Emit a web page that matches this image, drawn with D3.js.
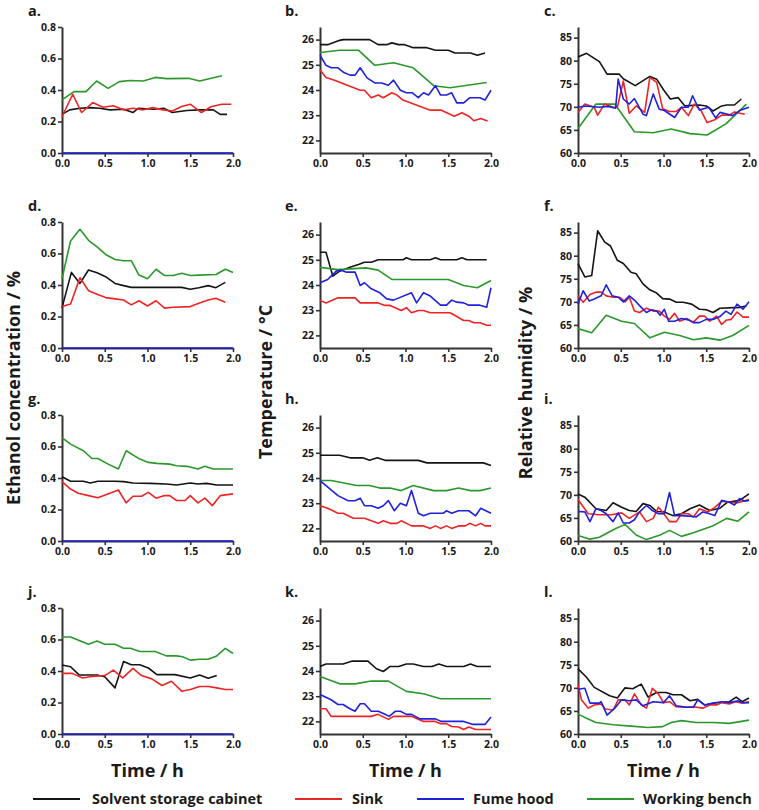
<!DOCTYPE html>
<html><head><meta charset="utf-8">
<script src="https://cdn.jsdelivr.net/npm/d3@7"></script>
<style>
body{margin:0;background:#fff}
svg{display:block}
text{font-family:"Open Sans",sans-serif;font-weight:700;fill:#1a1a1a}
</style>
</head><body>
<svg id="chart" width="759" height="810"></svg>
<script>
// ---------- series names & tick labels ----------
const seriesNames = ["Solvent storage cabinet","Sink","Fume hood","Working bench"];
const timeTicks = [0, 0.5, 1.0, 1.5, 2.0];
const ethanolTicks = [0, 0.2, 0.4, 0.6, 0.8];
const tempTicks = [22, 23, 24, 25, 26];
const humidityTicks = [60, 65, 70, 75, 80, 85];
const panelLetters = ["a.","b.","c.","d.","e.","f.","g.","h.","i.","j.","k.","l."];
const axisTitles = ["Ethanol concentration / %","Temperature / °C","Relative humidity / %"];
const xTitle = "Time / h";

// ---------- data: [time (h), value] ----------
// a. ethanol
const aCabinet = [[0,0.245],[0.09,0.274],[0.21,0.284],[0.33,0.288],[0.44,0.284],[0.56,0.274],[0.72,0.278],[0.83,0.257],[0.89,0.284],[1.07,0.278],[1.19,0.284],[1.29,0.257],[1.46,0.27],[1.61,0.274],[1.77,0.274],[1.85,0.245],[1.93,0.245]];
const aSink = [[0,0.23],[0.125,0.373],[0.23,0.257],[0.36,0.32],[0.48,0.29],[0.6,0.30],[0.72,0.274],[0.83,0.284],[0.95,0.274],[1.06,0.288],[1.18,0.274],[1.29,0.267],[1.4,0.295],[1.5,0.31],[1.63,0.257],[1.75,0.295],[1.87,0.31],[1.98,0.31]];
const aHood = [[0,0],[0.5,0],[1,0],[1.5,0],[2,0]];
const aBench = [[0,0.337],[0.14,0.39],[0.28,0.39],[0.405,0.457],[0.54,0.41],[0.67,0.453],[0.795,0.46],[0.95,0.457],[1.09,0.48],[1.22,0.472],[1.48,0.474],[1.61,0.457],[1.87,0.49]];
// b. temperature
const bCabinet = [[0,25.8],[0.09,25.8],[0.23,25.97],[0.27,26.0],[0.58,26.0],[0.68,25.8],[0.78,25.8],[0.84,25.87],[0.92,25.8],[0.99,25.8],[1.09,25.68],[1.25,25.68],[1.35,25.58],[1.5,25.58],[1.58,25.47],[1.76,25.47],[1.84,25.38],[1.93,25.47]];
const bSink = [[0,24.79],[0.07,24.5],[0.17,24.39],[0.47,23.99],[0.52,23.99],[0.6,23.69],[0.68,23.8],[0.74,23.69],[0.84,23.89],[0.9,23.8],[0.97,23.6],[1.29,23.2],[1.42,23.2],[1.57,22.96],[1.66,23.1],[1.74,22.96],[1.8,22.78],[1.88,22.87],[1.96,22.77]];
const bHood = [[0,25.38],[0.07,24.98],[0.13,24.88],[0.21,24.88],[0.28,24.69],[0.35,24.59],[0.41,24.59],[0.47,24.88],[0.55,24.48],[0.64,24.28],[0.72,24.28],[0.8,24.19],[0.86,24.39],[0.94,23.99],[1.01,23.89],[1.08,23.89],[1.15,23.7],[1.21,23.89],[1.27,23.8],[1.35,24.17],[1.41,23.8],[1.48,23.8],[1.54,23.89],[1.6,23.49],[1.68,23.49],[1.75,23.69],[1.87,23.69],[1.93,23.6],[2.0,23.99]];
const bBench = [[0,25.49],[0.23,25.58],[0.45,25.58],[0.64,24.98],[0.86,25.08],[1.09,24.88],[1.33,24.17],[1.52,24.09],[1.95,24.3]];
// c. humidity
const cCabinet = [[0,80.8],[0.1,81.6],[0.25,79.8],[0.34,77.1],[0.48,77.1],[0.53,76.1],[0.67,74.6],[0.84,76.6],[0.92,76.0],[1.0,73.7],[1.08,71.7],[1.17,72.0],[1.25,70.2],[1.42,70.4],[1.5,70.2],[1.58,69.1],[1.68,70.2],[1.74,70.4],[1.83,70.4],[1.91,71.7]];
const cSink = [[0,68.8],[0.08,70.6],[0.19,69.9],[0.23,68.2],[0.31,70.6],[0.41,69.9],[0.46,69.9],[0.53,75.6],[0.6,68.6],[0.68,70.2],[0.78,68.8],[0.84,76.4],[0.92,75.3],[0.99,69.6],[1.07,69.0],[1.15,69.0],[1.21,69.9],[1.29,68.1],[1.36,70.6],[1.44,69.2],[1.51,66.6],[1.6,67.2],[1.68,68.2],[1.77,68.2],[1.83,68.9],[1.95,68.4]];
const cHood = [[0,69.9],[0.09,70.2],[0.25,69.9],[0.35,70.1],[0.44,69.7],[0.47,76.0],[0.53,71.7],[0.6,70.6],[0.66,71.8],[0.76,68.4],[0.8,68.1],[0.88,72.8],[0.95,69.5],[1.01,69.2],[1.13,67.7],[1.21,69.9],[1.29,69.9],[1.34,72.4],[1.42,69.3],[1.53,69.9],[1.61,67.6],[1.66,68.8],[1.75,68.4],[1.81,68.1],[1.89,69.2],[2.0,69.9]];
const cBench = [[0,65.3],[0.21,70.6],[0.43,70.6],[0.66,64.6],[0.88,64.4],[1.09,65.2],[1.31,64.2],[1.51,63.9],[1.73,66.3],[1.97,70.6]];
// d. ethanol
const dCabinet = [[0,0.255],[0.11,0.48],[0.21,0.41],[0.31,0.495],[0.41,0.478],[0.51,0.453],[0.62,0.41],[0.72,0.396],[0.81,0.385],[1.4,0.385],[1.5,0.373],[1.6,0.383],[1.71,0.396],[1.8,0.383],[1.91,0.417]];
const dSink = [[0,0.263],[0.1,0.28],[0.21,0.446],[0.31,0.364],[0.41,0.341],[0.51,0.32],[0.62,0.312],[0.72,0.305],[0.81,0.274],[0.9,0.30],[1.0,0.267],[1.1,0.30],[1.2,0.253],[1.3,0.259],[1.5,0.263],[1.6,0.284],[1.71,0.305],[1.8,0.316],[1.91,0.29]];
const dHood = [[0,0],[0.5,0],[1,0],[1.5,0],[2,0]];
const dBench = [[0,0.44],[0.1,0.68],[0.21,0.754],[0.31,0.684],[0.41,0.642],[0.51,0.594],[0.62,0.562],[0.72,0.554],[0.81,0.554],[0.9,0.463],[1.0,0.44],[1.1,0.50],[1.2,0.46],[1.3,0.46],[1.4,0.474],[1.5,0.46],[1.6,0.463],[1.8,0.467],[1.91,0.50],[2.0,0.48]];
// e. temperature
const eCabinet = [[0,25.3],[0.07,25.3],[0.15,24.35],[0.23,24.55],[0.35,24.7],[0.45,24.81],[0.52,24.9],[0.6,24.9],[0.68,25.0],[0.97,25.0],[1.01,25.08],[1.07,25.0],[1.29,25.0],[1.35,25.08],[1.41,25.0],[1.6,25.0],[1.66,25.08],[1.72,25.0],[1.95,25.0]];
const eSink = [[0,23.39],[0.07,23.29],[0.21,23.49],[0.41,23.49],[0.47,23.29],[0.68,23.29],[0.76,23.19],[0.82,23.19],[0.95,22.99],[1.01,23.1],[1.07,22.9],[1.15,22.99],[1.21,22.99],[1.29,22.9],[1.52,22.9],[1.58,22.79],[1.68,22.59],[1.74,22.59],[1.8,22.5],[1.87,22.5],[1.95,22.4],[2.0,22.4]];
const eHood = [[0,24.09],[0.09,24.22],[0.13,24.35],[0.19,24.55],[0.25,24.59],[0.31,24.51],[0.41,24.51],[0.47,23.98],[0.52,24.09],[0.6,23.85],[0.7,23.69],[0.78,23.45],[0.86,23.4],[1.07,23.69],[1.13,23.29],[1.21,23.69],[1.29,23.56],[1.41,23.2],[1.48,23.2],[1.54,23.4],[1.6,23.32],[1.68,23.29],[1.74,23.2],[1.87,23.2],[1.95,23.12],[2.0,23.89]];
const eBench = [[0,24.7],[0.21,24.61],[0.54,24.68],[0.68,24.59],[0.84,24.22],[1.5,24.22],[1.68,23.98],[1.84,23.89],[2.0,24.18]];
// f. humidity
const fCabinet = [[0,78.3],[0.08,75.4],[0.16,75.7],[0.23,85.4],[0.31,83.0],[0.38,82.1],[0.46,79.0],[0.53,78.3],[0.62,76.4],[0.68,76.1],[0.76,73.9],[0.84,72.6],[0.92,71.9],[0.99,70.7],[1.07,70.6],[1.15,69.9],[1.23,69.9],[1.33,69.5],[1.42,68.4],[1.5,68.3],[1.58,67.7],[1.66,68.6],[1.89,68.8],[1.97,69.1]];
const fSink = [[0,71.3],[0.06,69.9],[0.14,71.6],[0.21,72.1],[0.27,72.1],[0.33,71.3],[0.41,71.0],[0.49,71.0],[0.55,70.0],[0.6,71.0],[0.66,68.0],[0.72,67.7],[0.8,68.6],[0.88,68.0],[0.95,68.0],[1.01,66.9],[1.07,66.2],[1.13,67.5],[1.19,65.8],[1.27,66.4],[1.35,65.6],[1.42,66.9],[1.48,66.9],[1.54,65.8],[1.62,66.9],[1.68,65.1],[1.73,66.0],[1.79,66.2],[1.86,67.8],[1.93,66.7],[2.0,66.7]];
const fHood = [[0,69.5],[0.06,72.4],[0.13,70.2],[0.19,70.6],[0.27,71.3],[0.33,73.7],[0.4,71.3],[0.47,71.0],[0.53,70.0],[0.6,71.3],[0.67,70.2],[0.74,68.8],[0.8,67.7],[0.86,68.3],[0.92,68.0],[0.96,67.1],[1.01,68.4],[1.06,65.8],[1.13,65.8],[1.21,66.4],[1.29,66.1],[1.35,65.5],[1.42,65.5],[1.5,66.2],[1.58,66.2],[1.66,66.8],[1.73,68.0],[1.79,67.3],[1.86,69.5],[1.93,68.4],[2.0,70.0]];
const fBench = [[0,64.2],[0.16,63.3],[0.33,67.1],[0.51,65.8],[0.66,65.3],[0.84,62.2],[1.01,63.4],[1.19,62.7],[1.35,61.8],[1.5,62.2],[1.66,61.7],[1.81,62.7],[2.0,64.9]];
// g. ethanol
const gCabinet = [[0,0.408],[0.1,0.379],[0.25,0.379],[0.33,0.368],[0.42,0.379],[0.62,0.379],[0.72,0.377],[0.83,0.368],[1.03,0.366],[1.22,0.362],[1.34,0.356],[1.5,0.368],[1.59,0.362],[1.69,0.366],[1.81,0.356],[2.0,0.356]];
const gSink = [[0,0.377],[0.1,0.33],[0.19,0.303],[0.31,0.288],[0.42,0.274],[0.66,0.324],[0.75,0.242],[0.83,0.284],[0.93,0.284],[1.01,0.309],[1.1,0.272],[1.19,0.288],[1.26,0.288],[1.34,0.257],[1.44,0.257],[1.5,0.288],[1.59,0.242],[1.67,0.272],[1.76,0.225],[1.85,0.288],[2.0,0.299]];
const gHood = [[0,0],[0.5,0],[1,0],[1.5,0],[2,0]];
const gBench = [[0,0.657],[0.1,0.615],[0.25,0.573],[0.35,0.524],[0.42,0.524],[0.54,0.488],[0.66,0.457],[0.75,0.573],[0.91,0.52],[1.01,0.499],[1.11,0.493],[1.26,0.488],[1.34,0.478],[1.46,0.474],[1.59,0.457],[1.67,0.474],[1.77,0.457],[2.0,0.457]];
// h. temperature
const hCabinet = [[0,24.9],[0.23,24.9],[0.35,24.8],[0.5,24.8],[0.58,24.7],[0.67,24.8],[0.76,24.7],[1.15,24.7],[1.25,24.6],[1.91,24.6],[2.0,24.5]];
const hSink = [[0,22.9],[0.09,22.8],[0.21,22.6],[0.27,22.6],[0.39,22.4],[0.52,22.4],[0.6,22.3],[0.68,22.2],[0.74,22.3],[0.82,22.2],[0.9,22.2],[0.95,22.3],[1.07,22.1],[1.21,22.1],[1.29,22.0],[1.35,22.1],[1.41,22.0],[1.48,22.1],[1.54,22.0],[1.62,22.1],[1.7,22.1],[1.75,22.2],[1.82,22.1],[1.88,22.2],[1.93,22.1],[2.0,22.1]];
const hHood = [[0,23.9],[0.07,23.7],[0.14,23.5],[0.21,23.3],[0.33,23.1],[0.41,23.1],[0.47,23.2],[0.52,22.9],[0.6,22.9],[0.68,22.8],[0.74,22.9],[0.8,23.1],[0.87,22.7],[0.94,23.0],[1.01,22.9],[1.07,23.5],[1.15,22.6],[1.21,22.5],[1.29,22.6],[1.44,22.6],[1.48,22.7],[1.54,22.6],[1.62,22.7],[1.74,22.7],[1.82,22.5],[1.88,22.8],[2.0,22.6]];
const hBench = [[0,23.9],[0.13,23.9],[0.43,23.7],[0.58,23.7],[0.7,23.6],[0.82,23.6],[0.95,23.5],[1.09,23.7],[1.33,23.5],[1.48,23.5],[1.62,23.6],[1.76,23.5],[1.87,23.5],[2.0,23.6]];
// i. humidity
const iCabinet = [[0,70.2],[0.08,69.5],[0.21,67.0],[0.33,66.6],[0.41,68.3],[0.51,67.3],[0.6,66.6],[0.68,66.4],[0.76,68.1],[0.84,67.7],[0.92,66.4],[1.01,66.3],[1.11,65.5],[1.21,65.9],[1.31,67.0],[1.42,67.8],[1.54,66.6],[1.66,67.1],[1.75,68.4],[1.89,68.8],[2.0,70.2]];
const iSink = [[0,69.0],[0.12,65.9],[0.25,65.7],[0.39,65.7],[0.51,66.1],[0.6,64.9],[0.72,66.3],[0.8,64.2],[0.88,64.9],[0.94,67.3],[0.99,66.3],[1.07,64.2],[1.15,64.2],[1.21,65.9],[1.29,65.9],[1.35,65.2],[1.42,67.0],[1.52,66.3],[1.6,67.3],[1.68,68.6],[1.77,68.4],[1.87,68.3],[2.0,69.0]];
const iHood = [[0,66.4],[0.08,66.3],[0.14,64.2],[0.21,67.0],[0.27,66.6],[0.33,65.9],[0.41,64.2],[0.47,66.1],[0.53,63.9],[0.6,63.9],[0.66,64.6],[0.72,66.3],[0.8,67.7],[0.87,66.6],[0.94,65.9],[1.01,65.9],[1.07,70.5],[1.13,65.5],[1.21,65.5],[1.29,65.4],[1.38,65.2],[1.46,66.3],[1.52,66.0],[1.6,65.5],[1.68,68.8],[1.77,68.4],[1.83,67.8],[1.89,69.2],[1.95,68.6],[2.0,68.8]];
const iBench = [[0,61.2],[0.14,60.4],[0.25,60.8],[0.43,62.6],[0.55,63.6],[0.68,61.3],[0.8,60.3],[0.96,61.3],[1.07,62.3],[1.21,61.0],[1.35,61.8],[1.58,63.3],[1.74,64.9],[1.87,64.3],[2.0,66.3]];
// j. ethanol
const jCabinet = [[0,0.438],[0.1,0.427],[0.2,0.375],[0.41,0.375],[0.5,0.364],[0.62,0.293],[0.72,0.461],[0.81,0.44],[0.91,0.44],[1.01,0.419],[1.11,0.377],[1.32,0.377],[1.5,0.356],[1.61,0.375],[1.71,0.354],[1.81,0.371]];
const jSink = [[0,0.385],[0.12,0.385],[0.24,0.356],[0.33,0.364],[0.5,0.371],[0.6,0.406],[0.71,0.356],[0.83,0.417],[0.93,0.371],[1.05,0.35],[1.17,0.308],[1.28,0.335],[1.4,0.272],[1.5,0.283],[1.61,0.302],[1.71,0.302],[1.81,0.293],[1.91,0.283],[2.0,0.283]];
const jHood = [[0,0],[0.5,0],[1,0],[1.5,0],[2,0]];
const jBench = [[0,0.616],[0.1,0.616],[0.31,0.57],[0.41,0.59],[0.5,0.57],[0.62,0.57],[0.72,0.544],[0.8,0.544],[0.91,0.524],[1.09,0.524],[1.22,0.496],[1.34,0.496],[1.41,0.49],[1.5,0.469],[1.61,0.475],[1.71,0.475],[1.81,0.496],[1.91,0.544],[2.0,0.511]];
// k. temperature
const kCabinet = [[0,24.18],[0.07,24.28],[0.27,24.28],[0.37,24.39],[0.56,24.39],[0.66,24.09],[0.74,23.98],[0.82,24.18],[0.92,24.18],[1.01,24.28],[1.09,24.28],[1.21,24.18],[1.31,24.18],[1.39,24.28],[1.48,24.18],[1.68,24.18],[1.76,24.28],[1.84,24.18],[2.0,24.18]];
const kSink = [[0,22.5],[0.07,22.5],[0.13,22.2],[0.6,22.2],[0.68,22.28],[0.8,22.08],[0.86,22.2],[1.07,22.2],[1.21,22.0],[1.35,22.0],[1.41,21.91],[1.48,21.91],[1.54,21.8],[1.62,21.78],[1.68,21.68],[1.74,21.78],[1.82,21.68],[2.0,21.68]];
const kHood = [[0,23.07],[0.13,22.86],[0.21,22.67],[0.27,22.67],[0.35,22.5],[0.41,22.4],[0.47,22.7],[0.52,22.7],[0.6,22.4],[0.68,22.4],[0.76,22.28],[0.81,22.2],[0.88,22.4],[0.94,22.4],[1.01,22.28],[1.07,22.28],[1.17,22.1],[1.35,22.1],[1.42,22.0],[1.68,22.0],[1.79,21.88],[1.93,21.88],[2.0,22.17]];
const kBench = [[0,23.78],[0.23,23.49],[0.41,23.49],[0.6,23.6],[0.8,23.6],[1.01,23.19],[1.21,23.1],[1.41,22.9],[2.0,22.9]];
// l. humidity
const lCabinet = [[0,74.1],[0.1,72.3],[0.19,70.1],[0.37,68.3],[0.46,67.8],[0.55,70.0],[0.64,69.8],[0.74,70.8],[0.82,68.0],[0.92,69.0],[1.03,69.0],[1.11,68.5],[1.21,68.5],[1.31,67.2],[1.4,67.5],[1.48,66.3],[1.6,66.7],[1.77,67.0],[1.85,68.0],[1.92,67.0],[2.0,67.8]];
const lSink = [[0,70.7],[0.04,67.4],[0.12,65.6],[0.19,66.3],[0.27,66.5],[0.32,65.4],[0.41,65.2],[0.47,67.4],[0.55,67.4],[0.6,66.3],[0.66,68.7],[0.74,66.3],[0.8,65.6],[0.87,69.9],[0.94,68.7],[1.0,66.8],[1.07,67.0],[1.15,65.9],[1.25,65.8],[1.35,65.9],[1.46,65.6],[1.54,66.3],[1.62,66.3],[1.68,66.8],[1.77,66.5],[1.84,67.0],[1.91,66.7],[2.0,67.0]];
const lHood = [[0,69.7],[0.08,69.9],[0.14,66.7],[0.25,66.7],[0.27,67.0],[0.34,64.1],[0.43,65.6],[0.51,67.4],[0.6,67.2],[0.68,67.4],[0.76,66.1],[0.88,67.0],[1.0,66.8],[1.07,68.3],[1.15,66.1],[1.27,65.8],[1.35,65.8],[1.4,67.4],[1.48,66.3],[1.58,66.7],[1.69,67.0],[1.77,66.8],[1.87,67.2],[1.93,66.7],[2.0,66.8]];
const lBench = [[0,64.3],[0.1,63.4],[0.21,62.5],[0.41,62.0],[0.62,61.7],[0.82,61.4],[0.99,61.6],[1.09,62.5],[1.21,62.9],[1.38,62.5],[1.58,62.5],[1.77,62.3],[2.0,63.0]];

// ---------- layout & style ----------
const colors = ["#141414","#ee2424","#1f22dc","#2a982a"];
const drawOrder = [0,3,1,2];
const colX = [62, 320, 578];
const rowY = [153, 348, 541, 734];
const plotW = 171, plotH = 126;

const kinds = {
  eth:  {domain:[0,0.8], ticks:ethanolTicks, fmt:d3.format(".1f")},
  temp: {domain:[21.5,26.5], ticks:tempTicks, fmt:d3.format("d")},
  rh:   {domain:[60,87.3], ticks:humidityTicks, fmt:d3.format("d")}
};
const kindByCol = ["eth","temp","rh"];
const panelData = [
  [aCabinet,aSink,aHood,aBench],[bCabinet,bSink,bHood,bBench],[cCabinet,cSink,cHood,cBench],
  [dCabinet,dSink,dHood,dBench],[eCabinet,eSink,eHood,eBench],[fCabinet,fSink,fHood,fBench],
  [gCabinet,gSink,gHood,gBench],[hCabinet,hSink,hHood,hBench],[iCabinet,iSink,iHood,iBench],
  [jCabinet,jSink,jHood,jBench],[kCabinet,kSink,kHood,kBench],[lCabinet,lSink,lHood,lBench]
];

const svg = d3.select("#chart");
svg.append("rect").attr("width",759).attr("height",810).attr("fill","#fff");

panelData.forEach((series, i) => {
  const col = i % 3, row = Math.floor(i / 3);
  const k = kinds[kindByCol[col]];
  const x0 = colX[col], yB = rowY[row];
  const x = d3.scaleLinear().domain([0,2]).range([x0, x0 + plotW]);
  const y = d3.scaleLinear().domain(k.domain).range([yB, yB - plotH]);
  const g = svg.append("g");

  const yAxis = g.append("g").attr("transform",`translate(${x0},0)`)
    .call(d3.axisLeft(y).tickValues(k.ticks).tickFormat(k.fmt).tickSize(4).tickSizeOuter(0).tickPadding(2));
  const xAxis = g.append("g").attr("transform",`translate(0,${yB})`)
    .call(d3.axisBottom(x).tickValues(timeTicks).tickFormat(d3.format(".1f")).tickSize(4).tickSizeOuter(0).tickPadding(3));
  [yAxis, xAxis].forEach(a => {
    a.select(".domain").attr("stroke","#333").attr("stroke-width",2);
    a.selectAll(".tick line").attr("stroke","#333").attr("stroke-width",1.6);
    a.selectAll(".tick text").style("font-size","10.5px").attr("fill","#1a1a1a");
  });

  const line = d3.line().x(d => x(d[0])).y(d => y(d[1]));
  drawOrder.forEach(s => {
    g.append("path").datum(series[s]).attr("d", line)
      .attr("fill","none").attr("stroke", colors[s]).attr("stroke-width",1.6)
      .attr("stroke-linejoin","round");
  });

  g.append("text").attr("x", [28,285,544][col]).attr("y", yB - 137)
    .style("font-size","14.5px").text(panelLetters[i]);

  if (row === 3) {
    g.append("text").attr("x", x0 + plotW/2).attr("y", 777)
      .attr("text-anchor","middle").style("font-size","18px").text(xTitle);
  }
});

// y-axis titles
[[20,388],[272,382],[532,383]].forEach((p, c) => {
  svg.append("text").attr("transform",`translate(${p[0]},${p[1]}) rotate(-90)`)
    .attr("text-anchor","middle").style("font-size","18px").text(axisTitles[c]);
});

// legend
const legendPos = [[33,92],[295,352],[417,473],[587,643]];
seriesNames.forEach((name, s) => {
  const [lx, tx] = legendPos[s];
  svg.append("line").attr("x1",lx).attr("x2",lx+47).attr("y1",799).attr("y2",799)
    .attr("stroke",colors[s]).attr("stroke-width",2);
  svg.append("text").attr("x",tx).attr("y",804).style("font-size","14.5px").text(name);
});
</script>
</body></html>
